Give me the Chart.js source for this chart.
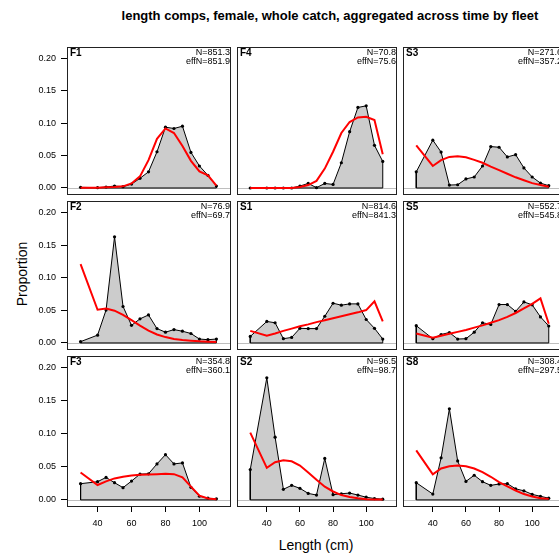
<!DOCTYPE html>
<html><head><meta charset="utf-8">
<script src="https://cdn.jsdelivr.net/npm/chart.js@4"></script>
<style>
html,body{margin:0;padding:0;background:#fff;overflow:hidden;}
#wrap{position:relative;width:559px;height:556px;overflow:hidden;background:#fff;font-family:"Liberation Sans",Arial,sans-serif;}
canvas{position:absolute;}
.t{position:absolute;white-space:nowrap;color:#000;font-family:"Liberation Sans",Arial,sans-serif;}
</style></head><body>
<div id="wrap">
<div class="t" id="title" style="left:0;width:660px;top:8px;line-height:16px;text-align:center;font-weight:bold;font-size:13px;">length comps, female, whole catch, aggregated across time by fleet</div>
<div class="t" id="ylab" style="left:22px;top:274px;font-size:14px;transform:translate(-50%,-50%) rotate(-90deg);">Proportion</div>
<div class="t" id="xlab" style="left:316px;top:545px;font-size:14px;transform:translate(-50%,-50%);">Length (cm)</div>
</div>
<script>
// ---- data ----
const lengthBins = [30,40,45,50,55,60,65,70,75,80,85,90,95,100,105,110];
const fleetNames = ['F1','F4','S3','F2','S1','S5','F3','S2','S8'];
const nLabels    = ['N=851.3','N=70.8','N=271.6','N=76.9','N=814.6','N=552.7','N=354.8','N=96.5','N=308.4'];
const effNLabels = ['effN=851.9','effN=75.6','effN=357.2','effN=69.7','effN=841.3','effN=545.8','effN=360.1','effN=98.7','effN=297.5'];
const yTicks = [0,0.05,0.10,0.15,0.20];
const xTicks = [40,60,80,100];

const obsF1 = [0.001,0.0005,0.0015,0.003,0.002,0.006,0.015,0.025,0.056,0.094,0.092,0.0955,0.055,0.034,0.0195,0.003];
const expF1 = [0.0002,0.0005,0.001,0.0015,0.0025,0.007,0.018,0.043,0.076,0.092,0.085,0.065,0.042,0.0255,0.0195,0.0035];
const obsF4 = [0,0,0,0,0,0.003,0.007,0.0005,0.007,0.0055,0.039,0.087,0.1245,0.127,0.066,0.041];
const expF4 = [0,0,0,0,0,0.0015,0.0045,0.011,0.03,0.056,0.085,0.102,0.109,0.11,0.105,0.052];
const obsS3 = [0.025,0.074,0.0555,0.0045,0.005,0.014,0.017,0.034,0.064,0.063,0.048,0.0515,0.031,0.017,0.0075,0.0035];
const expS3 = [0.066,0.034,0.043,0.048,0.049,0.0475,0.0435,0.039,0.033,0.0275,0.022,0.0165,0.012,0.0075,0.0045,0.002];
const obsF2 = [0.002,0.012,0.0505,0.163,0.056,0.027,0.037,0.043,0.022,0.0165,0.0205,0.018,0.0145,0.006,0.005,0.006];
const expF2 = [0.121,0.051,0.053,0.0495,0.043,0.035,0.0265,0.019,0.013,0.009,0.006,0.0045,0.0035,0.0025,0.002,0.0015];
const obsS1 = [0.01,0.033,0.031,0.0065,0.0085,0.0225,0.022,0.022,0.041,0.061,0.058,0.06,0.06,0.036,0.0225,0.006];
const expS1 = [0.0185,0.011,0.0145,0.0185,0.022,0.0255,0.0285,0.032,0.035,0.038,0.041,0.044,0.047,0.0505,0.064,0.033];
const obsS5 = [0.0265,0.0065,0.013,0.016,0.006,0.0065,0.0165,0.031,0.0285,0.059,0.059,0.0485,0.063,0.0585,0.04,0.026];
const expS5 = [0.0145,0.008,0.011,0.014,0.017,0.02,0.0235,0.027,0.031,0.035,0.04,0.046,0.053,0.06,0.0685,0.0295];
const obsF3 = [0.0245,0.0275,0.034,0.026,0.0185,0.0285,0.039,0.0395,0.0545,0.0685,0.0545,0.056,0.019,0.0055,0.0025,0.0015];
const expF3 = [0.0415,0.0225,0.028,0.0325,0.035,0.037,0.038,0.0385,0.039,0.0395,0.039,0.034,0.02,0.0065,0.002,0.001];
const obsS2 = [0.046,0.185,0.095,0.016,0.022,0.0175,0.0098,0.0073,0.0628,0.0078,0.0093,0.0103,0.0073,0.004,0.002,0.001];
const expS2 = [0.102,0.0485,0.057,0.06,0.0585,0.052,0.0415,0.0305,0.02,0.0127,0.0073,0.0044,0.0025,0.001,0.0005,0.0005];
const obsS8 = [0.026,0.0088,0.0637,0.138,0.059,0.028,0.0373,0.0275,0.022,0.024,0.0245,0.0167,0.0137,0.0083,0.0054,0.0025];
const expS8 = [0.075,0.0387,0.0475,0.051,0.052,0.051,0.0475,0.042,0.035,0.027,0.0206,0.0142,0.0088,0.005,0.0025,0.0015];

const obsAll = [obsF1,obsF4,obsS3,obsF2,obsS1,obsS5,obsF3,obsS2,obsS8];
const expAll = [expF1,expF4,expS3,expF2,expS1,expS5,expF3,expS2,expS8];

// ---- layout ----
const COLS = [67,233,399];
const PW = 166;
const ROWS = [43,197,352];
const PH = [154,155,154];
const YW = 67, XH = 36;
const Y_MIN = -0.0093, Y_MAX = 0.218;
const X_MIN = 22, X_MAX = 118;
const FONT = '"Liberation Sans", Arial, sans-serif';

const panelPlugin = {
  id:'panelDeco',
  beforeDatasetsDraw(chart){
    const ctx = chart.ctx, a = chart.chartArea;
    const y0 = Math.round(chart.scales.y.getPixelForValue(0)) + 0.5;
    ctx.save();
    ctx.strokeStyle = '#bebebe'; ctx.lineWidth = 1;
    ctx.beginPath(); ctx.moveTo(a.left, y0); ctx.lineTo(a.right, y0); ctx.stroke();
    ctx.restore();
  },
  afterDraw(chart){
    const ctx = chart.ctx, a = chart.chartArea;
    const o = chart.options.plugins.panelDeco;
    ctx.save();
    ctx.strokeStyle = '#222'; ctx.lineWidth = 1;
    ctx.strokeRect(a.left+0.5, a.top+0.5, a.right-a.left, a.bottom-a.top);
    ctx.fillStyle = '#000';
    ctx.font = 'bold 10px ' + FONT;
    ctx.textAlign = 'left'; ctx.textBaseline = 'alphabetic';
    ctx.fillText(o.name, a.left+3, a.top+9);
    ctx.font = '9px ' + FONT;
    ctx.textAlign = 'right';
    ctx.fillText(o.n, a.right, a.top+7.5);
    ctx.fillText(o.eff, a.right, a.top+16.5);
    ctx.restore();
  }
};

const wrap = document.getElementById('wrap');
for (let i=0;i<9;i++){
  const r = Math.floor(i/3), c = i%3;
  const showY = c===0, showX = r===2;
  const left = showY ? 0 : COLS[c];
  const cw = (showY ? YW : 0) + PW + 1;
  const ch = PH[r] + (showX ? XH : 1);
  const cv = document.createElement('canvas');
  cv.width = cw; cv.height = ch;
  cv.style.left = left+'px'; cv.style.top = ROWS[r]+'px';
  cv.style.width = cw+'px'; cv.style.height = ch+'px';
  wrap.appendChild(cv);

  const obs = obsAll[i], exp = expAll[i];
  const n = lengthBins.length;
  const obsPts = lengthBins.map((x,k)=>({x:x,y:obs[k]}));
  const expPts = lengthBins.map((x,k)=>({x:x,y:exp[k]}));
  const edgePts = [{x:lengthBins[0],y:obs[0]},{x:lengthBins[0],y:0},{x:lengthBins[n-1],y:0},{x:lengthBins[n-1],y:obs[n-1]}];

  new Chart(cv, {
    type:'line',
    data:{datasets:[
      {data:expPts, borderColor:'#ff0000', borderWidth:2, pointRadius:0, fill:false, tension:0, order:0},
      {data:edgePts, borderColor:'#000', borderWidth:1, pointRadius:0, fill:false, tension:0, order:1},
      {data:obsPts, borderColor:'#000', borderWidth:1, backgroundColor:'#cccccc', fill:'origin', tension:0,
       pointRadius:1.6, pointBackgroundColor:'#000', pointBorderWidth:0, pointStyle:'circle', order:2}
    ]},
    options:{
      responsive:false, animation:false, devicePixelRatio:1,
      layout:{padding:{left:0, top:0, right:1, bottom: showX?0:1}},
      plugins:{legend:{display:false}, tooltip:{enabled:false}, title:{display:false},
        panelDeco:{name:fleetNames[i], n:nLabels[i], eff:effNLabels[i]}},
      scales:{
        x:{type:'linear', min:X_MIN, max:X_MAX, display:showX, position:'bottom',
          afterBuildTicks:s=>{s.ticks = xTicks.map(v=>({value:v}));},
          afterFit:s=>{ if(showX){ s.height = XH; s.paddingLeft=0; s.paddingRight=0; } },
          grid:{drawOnChartArea:false, drawTicks:true, tickLength:6, color:'#000', lineWidth:1},
          border:{display:false},
          ticks:{color:'#000', font:{family:FONT, size:9}, padding:6, maxRotation:0, autoSkip:false, callback:v=>String(v)}},
        y:{type:'linear', min:Y_MIN, max:Y_MAX, display:showY,
          afterBuildTicks:s=>{s.ticks = yTicks.map(v=>({value:v}));},
          afterFit:s=>{ if(showY){ s.width = YW; s.paddingTop=0; s.paddingBottom=0; } },
          grid:{drawOnChartArea:false, drawTicks:true, tickLength:6, color:'#000', lineWidth:1},
          border:{display:false},
          ticks:{color:'#000', font:{family:FONT, size:9}, padding:5, callback:v=>Number(v).toFixed(2)}}
      }
    },
    plugins:[panelPlugin]
  });
}
</script>
</body></html>
